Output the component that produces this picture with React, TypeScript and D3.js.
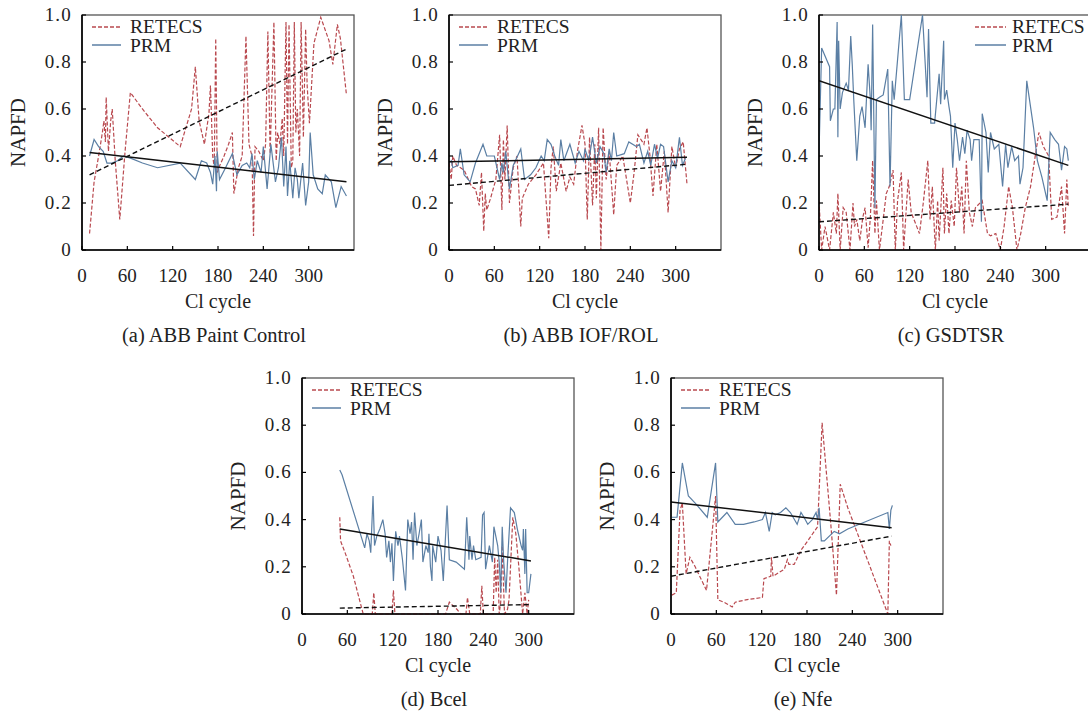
import React from "react";
import * as d3 from "d3";

type P = [number, number];

// ---------- tick labels ----------
const xTicks = [0, 60, 120, 180, 240, 300];
const yTicks = [0, 0.2, 0.4, 0.6, 0.8, 1.0];
const seriesNames = ["RETECS", "PRM"];
const captions = ["(a) ABB Paint Control", "(b) ABB IOF/ROL", "(c) GSDTSR", "(d) Bcel", "(e) Nfe"];

// ---------- (a) ABB Paint Control ----------
const paintRetecs: P[] = [[10,0.07],[16,0.29],[22,0.40],[27,0.50],[29,0.55],[31,0.46],[32,0.65],[35,0.42],[38,0.55],[40,0.60],[44,0.38],[50,0.13],[57,0.42],[64,0.67],[80,0.60],[100,0.52],[130,0.44],[145,0.60],[150,0.78],[155,0.55],[162,0.45],[168,0.58],[170,0.70],[173,0.40],[175,0.35],[177,0.90],[179,0.33],[181,0.35],[188,0.40],[194,0.45],[199,0.50],[201,0.24],[207,0.35],[212,0.40],[217,0.91],[221,0.45],[225,0.40],[227,0.06],[229,0.44],[234,0.42],[240,0.38],[243,0.45],[246,0.93],[249,0.41],[254,0.97],[257,0.38],[259,0.50],[262,0.45],[265,0.56],[267,0.40],[270,0.97],[272,0.45],[274,0.96],[277,0.35],[279,0.38],[281,0.97],[283,0.50],[285,0.60],[288,0.40],[290,0.97],[293,0.48],[296,0.94],[298,0.70],[301,0.54],[307,0.88],[316,0.99],[327,0.89],[332,0.79],[338,0.96],[342,0.90],[350,0.66]];
const paintPrm: P[] = [[10,0.40],[16,0.47],[22,0.44],[28,0.42],[33,0.37],[40,0.37],[47,0.38],[55,0.40],[65,0.39],[80,0.37],[100,0.35],[130,0.37],[150,0.30],[158,0.38],[165,0.37],[170,0.33],[173,0.28],[176,0.40],[178,0.25],[179,0.42],[182,0.30],[190,0.35],[199,0.41],[205,0.32],[212,0.36],[218,0.37],[222,0.35],[225,0.41],[228,0.30],[232,0.38],[237,0.33],[240,0.44],[245,0.26],[250,0.45],[256,0.29],[260,0.35],[264,0.48],[267,0.27],[270,0.44],[272,0.23],[275,0.38],[279,0.22],[282,0.35],[285,0.30],[287,0.22],[292,0.37],[296,0.19],[300,0.29],[302,0.50],[306,0.32],[312,0.26],[318,0.24],[322,0.32],[330,0.29],[336,0.18],[343,0.27],[350,0.23]];
const paintPrmTrend: P[] = [[10,0.415],[350,0.29]];
const paintRetecsTrend: P[] = [[10,0.32],[350,0.855]];

// ---------- (b) ABB IOF/ROL ----------
const iofRetecs: P[] = [[0,0.37],[3,0.30],[5,0.40],[10,0.36],[20,0.34],[30,0.27],[35,0.26],[40,0.19],[43,0.33],[46,0.08],[48,0.24],[50,0.17],[55,0.22],[62,0.30],[67,0.49],[70,0.17],[72,0.47],[74,0.30],[77,0.53],[80,0.20],[85,0.35],[90,0.40],[95,0.10],[97,0.22],[105,0.28],[115,0.32],[125,0.37],[132,0.05],[135,0.35],[138,0.44],[142,0.25],[148,0.37],[155,0.25],[160,0.31],[165,0.28],[170,0.42],[176,0.53],[180,0.45],[183,0.13],[186,0.48],[190,0.19],[193,0.45],[195,0.22],[198,0.52],[201,0.00],[204,0.52],[208,0.30],[212,0.42],[218,0.15],[222,0.36],[230,0.40],[240,0.20],[245,0.33],[250,0.49],[258,0.45],[262,0.52],[266,0.40],[270,0.23],[275,0.45],[280,0.25],[285,0.42],[290,0.16],[295,0.44],[300,0.35],[305,0.43],[310,0.46],[315,0.28]];
const iofPrm: P[] = [[0,0.37],[3,0.38],[5,0.35],[12,0.36],[15,0.43],[20,0.32],[28,0.29],[35,0.37],[45,0.45],[50,0.40],[60,0.40],[67,0.30],[70,0.37],[72,0.33],[75,0.42],[80,0.26],[85,0.36],[95,0.43],[100,0.30],[108,0.32],[115,0.35],[122,0.40],[126,0.38],[130,0.47],[135,0.45],[140,0.40],[145,0.36],[148,0.47],[152,0.38],[160,0.45],[167,0.37],[172,0.42],[178,0.38],[180,0.43],[185,0.38],[190,0.48],[195,0.37],[200,0.44],[205,0.41],[208,0.33],[212,0.43],[215,0.38],[218,0.50],[222,0.40],[232,0.41],[238,0.46],[248,0.44],[252,0.45],[258,0.37],[263,0.42],[267,0.36],[272,0.45],[276,0.39],[280,0.45],[284,0.44],[290,0.29],[295,0.38],[300,0.35],[305,0.48],[309,0.36],[313,0.39]];
const iofPrmTrend: P[] = [[0,0.375],[315,0.395]];
const iofRetecsTrend: P[] = [[0,0.275],[315,0.365]];

// ---------- (c) GSDTSR ----------
const gsdRetecs: P[] = [[0,0.21],[3.5,0],[8,0.10],[14,0],[19,0.16],[23,0.07],[25,0.24],[28,0],[32,0.18],[36,0.16],[41,0],[45,0.20],[47,0.10],[50,0.13],[54,0.04],[58,0.14],[61,0.18],[65,0.01],[68,0.14],[71,0.38],[74,0.07],[76,0.21],[80,0],[85,0.13],[89,0.24],[93,0.27],[98,0.34],[101,0],[104,0.21],[109,0.33],[112,0],[118,0.30],[122,0.16],[133,0.07],[138,0.20],[144,0.38],[147,0.13],[150,0.27],[154,0],[157,0.21],[159,0.04],[164,0.35],[166,0.07],[169,0.24],[172,0.07],[175,0.21],[179,0.10],[182,0.35],[186,0.16],[189,0.27],[192,0.07],[195,0.38],[199,0.16],[203,0.10],[207,0.18],[216,0.21],[223,0.07],[227,0.06],[234,0.07],[240,0],[245,0.10],[251,0.27],[256,0.18],[262,0],[267,0.07],[273,0.18],[280,0.27],[291,0.50],[297,0.44],[304,0.40],[308,0.13],[315,0.14],[321,0.27],[325,0.07],[328,0.30],[330,0.18]];
const gsdPrm: P[] = [[0,0.41],[3.5,0.86],[14,0.78],[15,0.55],[19,0.60],[21,0.60],[24,0.97],[25,0.48],[26,0.89],[28,0.60],[31,0.67],[36,0.71],[39,0.68],[42,0.91],[44,0.79],[46,0.64],[50,0.38],[54,0.57],[57,0.61],[61,0.52],[65,0.79],[68,0.64],[69,0.51],[71,0.96],[74,0.18],[76,0.64],[80,0.65],[85,0.66],[91,0.77],[94,0.27],[97,0.72],[99.5,0.64],[109,1.0],[113,0.64],[120,0.64],[137,1.0],[143,0.65],[145,0.94],[148,0.54],[153,0.54],[159,0.75],[161,0.62],[165,0.89],[166,0.64],[169,0.68],[172,0.61],[174,0.57],[177,0.35],[180,0.54],[183,0.47],[186,0.38],[190,0.48],[193,0.41],[196,0.51],[200,0.47],[202,0.38],[205,0.47],[212,0.47],[215,0.12],[216,0.58],[221,0.50],[224,0.33],[227,0.50],[232,0.43],[238,0.45],[243,0.27],[247,0.45],[250,0.35],[255,0.44],[259,0.38],[264,0.40],[266,0.28],[270,0.35],[275,0.72],[284,0.52],[289,0.38],[295,0.31],[302,0.21],[306,0.50],[312,0.47],[317,0.45],[321,0.34],[325,0.44],[328,0.43],[330,0.38]];
const gsdPrmTrend: P[] = [[0,0.72],[330,0.36]];
const gsdRetecsTrend: P[] = [[0,0.12],[330,0.195]];

// ---------- (d) Bcel ----------
const bcelRetecs: P[] = [[50,0.41],[51,0.31],[57,0.26],[68,0.16],[81,0],[93,0],[95,0.09],[97,0],[119,0],[121,0.10],[123,0],[190,0],[195,0.05],[205,0.02],[210,0],[217,0],[219,0.07],[222,0],[236,0],[238,0.12],[240,0],[253,0],[255,0.24],[257,0.09],[259,0.23],[261,0],[263,0.05],[265,0.29],[268,0],[272,0.02],[274,0.06],[279,0.41],[283,0.34],[287,0.20],[292,0],[295,0.09],[298,0],[300,0.06]];
const bcelPrm: P[] = [[50,0.61],[53,0.59],[83,0.28],[86,0.34],[89,0.31],[91,0.26],[92,0.34],[94,0.50],[96,0.29],[99,0.33],[103,0.36],[107,0.40],[110,0.34],[112,0.24],[115,0.31],[117,0.22],[119,0.30],[121,0.14],[124,0.35],[127,0.29],[129,0.33],[133,0.23],[137,0.10],[140,0.40],[143,0.34],[145,0.39],[147,0.23],[149,0.43],[152,0.29],[155,0.34],[158,0.40],[160,0.22],[164,0.29],[167,0.26],[168,0.34],[170,0.20],[172,0.14],[173,0.29],[177,0.22],[180,0.33],[184,0.27],[187,0.14],[192,0.46],[195,0.23],[204,0.22],[215,0.19],[218,0.41],[221,0.23],[222,0.33],[225,0.23],[227,0.29],[230,0.23],[237,0.24],[239,0.42],[241,0.43],[243,0.19],[248,0.29],[252,0.22],[254,0.37],[259,0.29],[261,0.22],[263,0.09],[265,0.37],[267,0.22],[270,0.09],[272,0.22],[276,0.45],[281,0.43],[285,0.36],[290,0.29],[292,0.27],[293,0.36],[295,0.17],[296,0.36],[298,0.09],[300,0.09],[303,0.17]];
const bcelPrmTrend: P[] = [[50,0.36],[303,0.225]];
const bcelRetecsTrend: P[] = [[50,0.025],[303,0.04]];

// ---------- (e) Nfe ----------
const nfeRetecs: P[] = [[1,0.08],[7,0.09],[12,0.44],[15,0.47],[20,0.17],[25,0.24],[32,0.20],[47,0.10],[57,0.43],[59,0.50],[62,0.06],[70,0.05],[81,0.03],[85,0.05],[99,0.06],[121,0.07],[123,0.15],[132,0.16],[133,0.24],[135,0.16],[150,0.19],[154,0.23],[156,0.21],[163,0.21],[172,0.27],[181,0.31],[194,0.37],[200,0.81],[211,0.40],[219,0.08],[224,0.55],[234,0.45],[287,0],[289,0.31],[291,0.29]];
const nfePrm: P[] = [[1,0.41],[8,0.41],[15,0.64],[23,0.50],[32,0.47],[48,0.41],[59,0.64],[62,0.39],[74,0.43],[85,0.38],[96,0.38],[110,0.39],[121,0.40],[125,0.43],[130,0.35],[134,0.43],[138,0.42],[145,0.43],[152,0.45],[158,0.43],[167,0.38],[172,0.43],[176,0.41],[181,0.38],[187,0.40],[192,0.43],[194,0.40],[196,0.45],[199,0.31],[203,0.31],[216,0.35],[223,0.34],[234,0.36],[287,0.43],[289,0.36],[291,0.44],[293,0.46]];
const nfePrmTrend: P[] = [[0,0.475],[292,0.365]];
const nfeRetecsTrend: P[] = [[0,0.16],[292,0.33]];

// ---------- layout ----------
const PW = 272;
const RED = "#b9494f";
const BLUE = "#5b7fa4";
const FONT = "'Liberation Serif', 'Times New Roman', serif";

const panels = [
  { left: 82, top: 15, h: 235, cap: captions[0], ret: paintRetecs, prm: paintPrm, rt: paintRetecsTrend, pt: paintPrmTrend, legendRight: false },
  { left: 449, top: 15, h: 235, cap: captions[1], ret: iofRetecs, prm: iofPrm, rt: iofRetecsTrend, pt: iofPrmTrend, legendRight: false },
  { left: 819, top: 15, h: 235, cap: captions[2], ret: gsdRetecs, prm: gsdPrm, rt: gsdRetecsTrend, pt: gsdPrmTrend, legendRight: true },
  { left: 302, top: 378, h: 236, cap: captions[3], ret: bcelRetecs, prm: bcelPrm, rt: bcelRetecsTrend, pt: bcelPrmTrend, legendRight: false },
  { left: 671, top: 378, h: 236, cap: captions[4], ret: nfeRetecs, prm: nfePrm, rt: nfeRetecsTrend, pt: nfePrmTrend, legendRight: false },
];

function Panel({ p }: { p: (typeof panels)[number] }) {
  const x = d3.scaleLinear().domain([0, 360]).range([p.left, p.left + PW]);
  const bottom = p.top + p.h;
  const y = d3.scaleLinear().domain([0, 1]).range([bottom, p.top]);
  const line = d3.line<P>().x((d) => x(d[0])).y((d) => y(d[1]));
  const cx = p.left + PW / 2;
  const lgX = p.legendRight ? p.left + 156 : p.left + 10;
  const lgW = p.legendRight ? 31 : 29;
  const lgT = p.legendRight ? p.left + 193 : p.left + 48;
  return (
    <g>
      <defs>
        <clipPath id={`clip${p.left}`}>
          <rect x={p.left} y={p.top - 2} width={PW} height={p.h + 3} />
        </clipPath>
      </defs>
      {/* frame */}
      <rect x={p.left} y={p.top} width={PW} height={p.h} fill="none" stroke="#555" strokeWidth={1.3} />
      <g clipPath={`url(#clip${p.left})`}>
        <path d={line(p.ret) || ""} fill="none" stroke={RED} strokeWidth={1.2} strokeDasharray="4,2" />
        <path d={line(p.prm) || ""} fill="none" stroke={BLUE} strokeWidth={1.2} />
        <path d={line(p.pt) || ""} fill="none" stroke="#111" strokeWidth={1.5} />
        <path d={line(p.rt) || ""} fill="none" stroke="#111" strokeWidth={1.4} strokeDasharray="5,3" />
      </g>
      {/* axes */}
      <line x1={p.left} x2={p.left} y1={p.top} y2={bottom} stroke="#000" strokeWidth={1.6} />
      <line x1={p.left} x2={p.left + PW} y1={bottom} y2={bottom} stroke="#000" strokeWidth={1.6} />
      {xTicks.map((t) => (
        <g key={`x${t}`}>
          <line x1={x(t)} x2={x(t)} y1={bottom} y2={bottom - 4} stroke="#000" strokeWidth={1.2} />
          <text x={x(t)} y={bottom + 32} textAnchor="middle" fontSize={19} fontFamily={FONT} fill="#222">
            {t}
          </text>
        </g>
      ))}
      {yTicks.map((t) => (
        <g key={`y${t}`}>
          <line x1={p.left} x2={p.left + 4} y1={y(t)} y2={y(t)} stroke="#000" strokeWidth={1.2} />
          <text x={p.left - 10} y={y(t) + 6} textAnchor="end" fontSize={19} letterSpacing={1.2} fontFamily={FONT} fill="#222">
            {t === 0 ? "0" : d3.format(".1f")(t)}
          </text>
        </g>
      ))}
      <text
        transform={`translate(${p.left - 57},${(p.top + bottom) / 2}) rotate(-90)`}
        textAnchor="middle"
        fontSize={21}
        fontFamily={FONT}
        fill="#222"
      >
        NAPFD
      </text>
      <text x={cx} y={bottom + 58} textAnchor="middle" fontSize={20} fontFamily={FONT} fill="#222">
        Cl cycle
      </text>
      <text x={cx - 4} y={bottom + 92} textAnchor="middle" fontSize={20.5} fontFamily={FONT} fill="#222">
        {p.cap}
      </text>
      {/* legend */}
      <line x1={lgX} x2={lgX + lgW} y1={p.top + 12} y2={p.top + 12} stroke={RED} strokeWidth={1.3} strokeDasharray="4,2" />
      <text x={lgT} y={p.top + 18} fontSize={19.5} fontFamily={FONT} fill="#222">
        {seriesNames[0]}
      </text>
      <line x1={lgX} x2={lgX + lgW} y1={p.top + 30} y2={p.top + 30} stroke={BLUE} strokeWidth={1.5} />
      <text x={lgT} y={p.top + 37} fontSize={19.5} fontFamily={FONT} fill="#222">
        {seriesNames[1]}
      </text>
    </g>
  );
}

export default function App() {
  return (
    <svg
      width={1088}
      height={713}
      style={{ position: "absolute", left: 0, top: 0, background: "#fff" }}
    >
      <rect x={0} y={0} width={1088} height={713} fill="#fff" />
      {panels.map((p, i) => (
        <Panel key={i} p={p} />
      ))}
    </svg>
  );
}
